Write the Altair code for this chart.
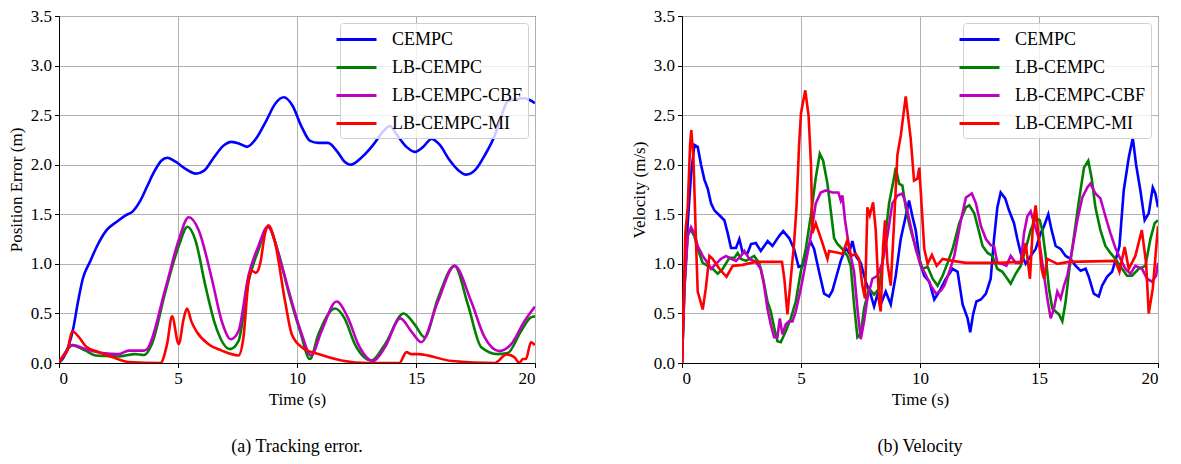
import altair as alt
import pandas as pd

SERIES = ["CEMPC", "LB-CEMPC", "LB-CEMPC-CBF", "LB-CEMPC-MI"]
COLORS = ["#0000ff", "#008000", "#bf00bf", "#ff0000"]
X_TICKS = [0, 5, 10, 15, 20]
Y_TICKS = [0.0, 0.5, 1.0, 1.5, 2.0, 2.5, 3.0, 3.5]

# ---- (a) Tracking error ----
err_cempc_t = [0, 0.2, 0.4, 0.6, 0.8, 1.0, 1.3, 1.6, 2.0, 2.4, 2.8, 3.1, 3.4, 3.7, 4.0, 4.3, 4.55, 4.9, 5.3, 5.75, 6.1, 6.5, 6.9, 7.25, 7.6, 7.9, 8.3, 8.7, 9.1, 9.45, 9.8, 10.2, 10.55, 10.9, 11.3, 11.7, 12.0, 12.25, 12.7, 13.2, 13.6, 13.9, 14.2, 14.6, 14.95, 15.3, 15.65, 16.0, 16.4, 16.8, 17.1, 17.5, 17.9, 18.3, 18.6, 18.85, 19.2, 19.55, 19.8, 20.0]
err_cempc_v = [0, 0.06, 0.17, 0.35, 0.62, 0.85, 1.02, 1.18, 1.34, 1.42, 1.49, 1.53, 1.63, 1.78, 1.93, 2.04, 2.07, 2.03, 1.96, 1.91, 1.94, 2.07, 2.19, 2.23, 2.21, 2.18, 2.27, 2.44, 2.62, 2.68, 2.60, 2.38, 2.24, 2.22, 2.22, 2.13, 2.03, 2.0, 2.07, 2.20, 2.33, 2.39, 2.30, 2.18, 2.13, 2.18, 2.26, 2.20, 2.05, 1.94, 1.90, 1.95, 2.10, 2.29, 2.50, 2.64, 2.66, 2.67, 2.65, 2.62]

err_lb_t = [0, 0.2, 0.42, 0.56, 0.8, 1.12, 1.54, 2.0, 2.5, 3.2, 3.56, 3.9, 4.47, 5.03, 5.4, 5.73, 6.15, 6.56, 7.19, 7.54, 7.96, 8.38, 8.77, 9.22, 9.64, 10.13, 10.54, 10.9, 11.6, 12.0, 12.43, 13.13, 13.7, 14.48, 14.94, 15.36, 15.92, 16.62, 17.18, 17.74, 18.44, 18.85, 19.41, 19.83, 20.0]
err_lb_v = [0, 0.08, 0.16, 0.18, 0.16, 0.125, 0.076, 0.07, 0.066, 0.09, 0.08, 0.19, 0.72, 1.18, 1.375, 1.24, 0.78, 0.39, 0.14, 0.22, 0.82, 1.14, 1.375, 1.11, 0.72, 0.32, 0.04, 0.29, 0.55, 0.45, 0.19, 0.026, 0.19, 0.50, 0.39, 0.26, 0.65, 0.98, 0.59, 0.16, 0.09, 0.10, 0.32, 0.46, 0.47]

err_cbf_t = [0, 0.2, 0.56, 1.12, 1.82, 2.5, 2.93, 3.56, 3.7, 4.47, 5.03, 5.45, 5.87, 6.42, 6.84, 7.22, 7.54, 7.96, 8.38, 8.77, 9.36, 9.78, 10.2, 10.59, 11.03, 11.66, 12.15, 12.57, 13.2, 13.7, 14.34, 14.8, 15.22, 15.92, 16.62, 17.32, 17.88, 18.5, 19.0, 19.55, 20.0]
err_cbf_v = [0, 0.08, 0.18, 0.14, 0.10, 0.09, 0.125, 0.125, 0.14, 0.75, 1.24, 1.47, 1.34, 0.85, 0.42, 0.24, 0.32, 0.88, 1.18, 1.375, 0.98, 0.62, 0.29, 0.076, 0.32, 0.62, 0.45, 0.19, 0.02, 0.16, 0.45, 0.32, 0.21, 0.62, 0.98, 0.62, 0.26, 0.12, 0.19, 0.42, 0.57]

err_mi_t = [0, 0.14, 0.35, 0.56, 0.84, 1.12, 1.68, 2.23, 2.93, 4.26, 4.54, 4.75, 5.03, 5.24, 5.38, 5.56, 5.8, 6.28, 6.84, 7.54, 7.75, 7.96, 8.1, 8.27, 8.45, 8.66, 8.8, 9.08, 9.5, 9.78, 10.2, 10.9, 11.87, 13.0, 14.3, 14.6, 14.8, 15.08, 16.5, 18.3, 18.8, 19.13, 19.34, 19.48, 19.62, 19.83, 20.0]
err_mi_v = [0, 0.06, 0.125, 0.32, 0.26, 0.17, 0.11, 0.06, 0.01, 0.0, 0.19, 0.47, 0.19, 0.45, 0.55, 0.42, 0.31, 0.19, 0.125, 0.076, 0.26, 0.82, 0.93, 0.91, 1.0, 1.31, 1.39, 1.21, 0.62, 0.29, 0.16, 0.09, 0.026, 0.0, 0.0, 0.11, 0.09, 0.09, 0.02, 0.0, 0.085, 0.06, 0.0, 0.04, 0.04, 0.21, 0.18]

# ---- (b) Velocity ----
vel_cempc_t = [0, 0.1, 0.24, 0.38, 0.52, 0.66, 0.8, 0.94, 1.08, 1.22, 1.36, 1.57, 1.78, 1.92, 2.06, 2.27, 2.41, 2.55, 2.76, 2.9, 3.1, 3.31, 3.6, 3.8, 4.08, 4.25, 4.5, 4.71, 4.9, 5.06, 5.27, 5.41, 5.55, 5.76, 5.97, 6.18, 6.32, 6.46, 6.67, 6.88, 7.02, 7.16, 7.3, 7.51, 7.72, 7.93, 8.07, 8.21, 8.35, 8.56, 8.77, 8.98, 9.19, 9.4, 9.54, 9.68, 9.82, 10.0, 10.18, 10.39, 10.6, 10.81, 11.09, 11.37, 11.58, 11.79, 12.0, 12.11, 12.23, 12.37, 12.56, 12.77, 12.97, 13.11, 13.25, 13.39, 13.58, 13.74, 13.95, 14.09, 14.23, 14.44, 14.65, 14.86, 15.07, 15.21, 15.39, 15.53, 15.7, 15.91, 16.12, 16.33, 16.54, 16.75, 16.96, 17.09, 17.3, 17.51, 17.65, 17.86, 18.07, 18.21, 18.38, 18.56, 18.77, 18.94, 19.08, 19.26, 19.44, 19.61, 19.78, 19.89, 20.0]
vel_cempc_v = [0, 0.75, 1.41, 1.9, 2.2, 2.18, 2.0, 1.85, 1.76, 1.61, 1.54, 1.49, 1.44, 1.31, 1.16, 1.16, 1.25, 1.11, 1.11, 1.2, 1.21, 1.13, 1.23, 1.18, 1.28, 1.33, 1.26, 1.15, 0.97, 0.98, 1.15, 1.22, 1.15, 0.92, 0.7, 0.67, 0.73, 0.85, 1.03, 1.16, 1.11, 1.23, 1.08, 1.01, 0.82, 0.69, 0.57, 0.69, 0.59, 0.72, 0.59, 0.88, 1.25, 1.48, 1.64, 1.48, 1.34, 1.01, 0.88, 0.82, 0.64, 0.72, 0.85, 0.95, 0.92, 0.59, 0.45, 0.31, 0.49, 0.62, 0.64, 0.7, 0.85, 1.25, 1.57, 1.72, 1.66, 1.54, 1.41, 1.25, 1.11, 1.0, 1.08, 1.15, 1.31, 1.38, 1.5, 1.34, 1.18, 1.15, 1.08, 1.05, 0.98, 0.93, 0.95, 0.87, 0.7, 0.67, 0.78, 0.87, 0.92, 1.03, 1.18, 1.74, 2.07, 2.27, 2.0, 1.74, 1.44, 1.51, 1.77, 1.71, 1.57]

vel_lb_t = [0, 0.1, 0.24, 0.38, 0.52, 0.66, 0.87, 1.08, 1.29, 1.5, 1.71, 1.99, 2.2, 2.34, 2.48, 2.69, 3.03, 3.24, 3.41, 3.59, 3.73, 3.87, 4.01, 4.15, 4.36, 4.57, 4.78, 4.99, 5.2, 5.41, 5.62, 5.79, 5.93, 6.11, 6.25, 6.39, 6.53, 6.74, 6.95, 7.09, 7.23, 7.37, 7.51, 7.65, 7.86, 8.07, 8.28, 8.49, 8.7, 8.91, 8.98, 9.12, 9.26, 9.4, 9.54, 9.68, 9.89, 10.11, 10.32, 10.53, 10.74, 10.95, 11.16, 11.37, 11.65, 11.93, 12.07, 12.28, 12.42, 12.63, 12.84, 13.04, 13.25, 13.46, 13.67, 13.81, 14.02, 14.23, 14.44, 14.65, 14.86, 15.03, 15.14, 15.28, 15.42, 15.56, 15.7, 15.84, 15.98, 16.12, 16.26, 16.47, 16.68, 16.89, 17.07, 17.21, 17.37, 17.58, 17.79, 18.0, 18.21, 18.49, 18.7, 18.91, 19.19, 19.47, 19.68, 19.86, 20.0]
vel_lb_v = [0, 0.75, 1.31, 1.34, 1.28, 1.15, 1.01, 0.98, 0.95, 0.9, 0.95, 1.06, 1.06, 1.11, 1.05, 1.03, 1.08, 1.01, 0.85, 0.62, 0.52, 0.36, 0.22, 0.21, 0.32, 0.45, 0.62, 0.92, 1.15, 1.48, 1.87, 2.11, 2.04, 1.81, 1.54, 1.26, 1.2, 1.15, 1.08, 0.98, 0.59, 0.26, 0.29, 0.55, 0.75, 0.69, 0.75, 1.15, 1.61, 1.87, 1.97, 1.81, 1.79, 1.57, 1.41, 1.28, 1.11, 0.95, 0.97, 0.85, 0.78, 0.88, 1.01, 1.15, 1.41, 1.57, 1.59, 1.51, 1.38, 1.18, 1.11, 1.08, 0.95, 0.92, 0.85, 0.8, 0.9, 0.98, 1.15, 1.34, 1.46, 1.44, 1.34, 1.08, 0.75, 0.55, 0.52, 0.49, 0.42, 0.62, 0.92, 1.28, 1.64, 1.97, 2.04, 1.87, 1.57, 1.34, 1.18, 1.11, 1.05, 0.95, 0.88, 0.88, 0.95, 0.98, 1.25, 1.41, 1.44]

vel_cbf_t = [0, 0.1, 0.24, 0.38, 0.52, 0.66, 0.87, 1.08, 1.22, 1.43, 1.64, 1.85, 2.06, 2.27, 2.48, 2.62, 2.83, 3.1, 3.31, 3.45, 3.59, 3.73, 3.87, 4.01, 4.11, 4.22, 4.36, 4.5, 4.64, 4.78, 4.99, 5.2, 5.41, 5.62, 5.83, 6.04, 6.32, 6.57, 6.67, 6.74, 6.85, 6.95, 7.09, 7.23, 7.37, 7.51, 7.65, 7.79, 8.0, 8.21, 8.42, 8.63, 8.84, 9.05, 9.26, 9.4, 9.61, 9.82, 10.03, 10.18, 10.32, 10.46, 10.67, 10.88, 11.02, 11.23, 11.44, 11.72, 11.93, 12.18, 12.35, 12.56, 12.77, 12.97, 13.11, 13.25, 13.46, 13.63, 13.81, 14.02, 14.23, 14.37, 14.51, 14.65, 14.83, 15.0, 15.14, 15.35, 15.49, 15.63, 15.77, 15.91, 16.05, 16.19, 16.4, 16.61, 16.82, 17.03, 17.16, 17.37, 17.58, 17.79, 18.0, 18.21, 18.42, 18.63, 18.84, 19.05, 19.33, 19.54, 19.75, 19.92, 20.0]
vel_cbf_v = [0, 0.75, 1.28, 1.37, 1.31, 1.18, 1.08, 1.01, 0.95, 1.0, 1.05, 1.08, 1.05, 1.03, 1.08, 1.13, 1.05, 1.02, 0.95, 0.78, 0.55, 0.39, 0.26, 0.26, 0.45, 0.29, 0.39, 0.42, 0.42, 0.52, 0.75, 1.01, 1.28, 1.61, 1.72, 1.74, 1.72, 1.72, 1.64, 1.69, 1.44, 1.28, 1.08, 0.92, 0.55, 0.24, 0.42, 0.65, 0.85, 0.88, 1.01, 1.28, 1.61, 1.69, 1.71, 1.61, 1.38, 1.15, 0.98, 0.92, 0.85, 0.78, 0.7, 0.73, 0.78, 0.92, 1.08, 1.44, 1.67, 1.71, 1.61, 1.38, 1.25, 1.19, 1.18, 1.01, 1.0, 0.98, 1.08, 1.01, 1.01, 1.31, 1.48, 1.53, 1.38, 1.25, 1.01, 0.65, 0.45, 0.55, 0.72, 0.65, 0.78, 0.88, 1.15, 1.44, 1.67, 1.77, 1.81, 1.71, 1.66, 1.48, 1.31, 1.16, 1.05, 0.95, 0.9, 0.98, 0.95, 0.85, 0.82, 0.88, 1.01]

vel_mi_t = [0, 0.14, 0.24, 0.34, 0.39, 0.48, 0.59, 0.66, 0.87, 1.0, 1.15, 1.29, 1.57, 1.87, 2.13, 2.55, 3.1, 4.2, 4.3, 4.43, 4.57, 4.71, 4.81, 4.92, 5.0, 5.18, 5.32, 5.42, 5.48, 5.62, 5.76, 5.9, 6.11, 6.18, 6.6, 6.74, 6.95, 7.09, 7.3, 7.44, 7.58, 7.69, 7.79, 7.89, 8.03, 8.14, 8.28, 8.35, 8.45, 8.53, 8.63, 8.77, 8.91, 9.05, 9.19, 9.4, 9.61, 9.75, 9.89, 9.97, 10.18, 10.32, 10.5, 10.7, 10.95, 11.37, 11.93, 13.3, 14.27, 14.44, 14.62, 14.75, 14.86, 14.97, 15.11, 15.21, 15.35, 15.77, 16.26, 18.21, 18.38, 18.6, 18.77, 19.05, 19.32, 19.5, 19.61, 19.78, 20.0]
vel_mi_v = [0, 1.31, 1.57, 2.2, 2.35, 2.07, 1.21, 0.72, 0.54, 0.75, 1.08, 1.05, 0.95, 0.87, 0.98, 0.99, 1.02, 1.02, 0.85, 0.49, 0.85, 1.21, 1.57, 2.2, 2.52, 2.75, 2.49, 2.0, 1.31, 1.41, 1.31, 1.21, 1.05, 1.13, 1.11, 1.1, 1.24, 1.08, 1.1, 1.05, 0.78, 0.65, 1.57, 1.49, 1.62, 1.34, 0.62, 0.52, 1.18, 1.44, 1.01, 0.78, 1.41, 2.1, 2.29, 2.69, 2.26, 1.84, 1.86, 1.97, 1.15, 1.0, 1.09, 0.98, 1.05, 1.03, 1.01, 1.01, 1.02, 1.21, 0.85, 1.41, 1.59, 1.31, 0.95, 0.85, 1.05, 1.0, 1.02, 1.03, 0.92, 1.17, 0.95, 1.08, 1.34, 1.01, 0.5, 0.75, 1.38]


def frame(pairs):
    rows = []
    for name, (ts, vs) in zip(SERIES, pairs):
        for t, v in zip(ts, vs):
            rows.append({"t": t, "v": v, "series": name})
    return pd.DataFrame(rows)


err_df = frame([(err_cempc_t, err_cempc_v), (err_lb_t, err_lb_v),
                (err_cbf_t, err_cbf_v), (err_mi_t, err_mi_v)])
vel_df = frame([(vel_cempc_t, vel_cempc_v), (vel_lb_t, vel_lb_v),
                (vel_cbf_t, vel_cbf_v), (vel_mi_t, vel_mi_v)])

FONT = "Liberation Serif"


def panel(df, ytitle, caption, interp):
    return alt.Chart(df).mark_line(strokeWidth=2.6, interpolate=interp, clip=True).encode(
        x=alt.X("t:Q", scale=alt.Scale(domain=[0, 20], nice=False, zero=False),
                axis=alt.Axis(title="Time (s)", values=X_TICKS, format="d")),
        y=alt.Y("v:Q", scale=alt.Scale(domain=[0, 3.5], nice=False),
                axis=alt.Axis(title=ytitle, values=Y_TICKS, format=".1f")),
        color=alt.Color("series:N", scale=alt.Scale(domain=SERIES, range=COLORS),
                        legend=alt.Legend(title=None, orient="top-right")),
        detail="series:N",
    ).properties(
        width=476, height=347,
        title=alt.TitleParams(caption, orient="bottom", font=FONT, fontSize=18,
                              fontWeight="normal", color="black", offset=30),
    )


left = panel(err_df, "Position Error (m)", "(a)  Tracking error.", "monotone")
right = panel(vel_df, "Velocity (m/s)", "(b)  Velocity", "linear")

chart = alt.hconcat(left, right, spacing=93).resolve_scale(
    color="independent").resolve_legend(color="independent").properties(
    padding={"left": -2, "top": -2, "right": 0, "bottom": 0}
).configure_view(stroke="black", strokeWidth=1).configure_axis(
    labelFont=FONT, labelFontSize=17, labelColor="black",
    titleFont=FONT, titleFontSize=17, titleFontWeight="normal", titleColor="black",
    domainColor="black", tickColor="black", tickSize=4.5, labelPadding=3,
    gridColor="#b0b0b0", gridWidth=1, titlePadding=5,
).configure_legend(
    labelFont=FONT, labelFontSize=18, labelColor="black",
    symbolType="M-2,0H2", symbolSize=400, symbolStrokeWidth=3,
    strokeColor="#d0d0d0", fillColor="rgba(255,255,255,0.8)",
    padding=5, cornerRadius=3, offset=7, labelOffset=24, rowPadding=7,
)

chart.save("out.html", embed_options={"renderer": "svg", "actions": False})
